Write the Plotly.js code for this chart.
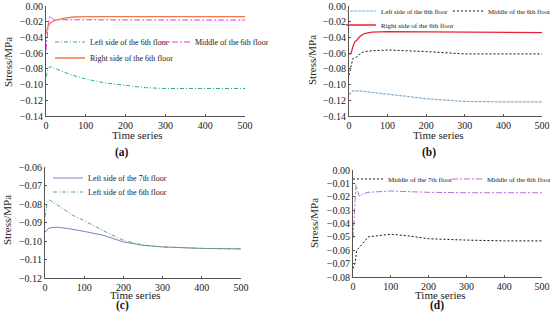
<!DOCTYPE html>
<html><head><meta charset="utf-8">
<script src="https://cdn.plot.ly/plotly-3.0.1.min.js"></script>
<style>html,body{margin:0;padding:0;background:#fff}#chart{width:550px;height:321px}</style>
</head><body><div id="chart"></div>
<script>
// ---- data ----
const tA_left6 = [0,5,10,20,40,60,100,150,200,250,300,400,500];
const vA_left6 = [-0.090,-0.080,-0.077,-0.079,-0.083,-0.087,-0.093,-0.098,-0.101,-0.104,-0.105,-0.105,-0.105];
const tA_mid6 = [0,3,6,10,15,20,30,50,100,200,300,400,500];
const vA_mid6 = [-0.056,-0.040,-0.022,-0.013,-0.016,-0.018,-0.0175,-0.0175,-0.018,-0.018,-0.018,-0.018,-0.018];
const tA_right6 = [0,3,6,10,15,25,40,50,70,100,200,300,400,500];
const vA_right6 = [-0.035,-0.030,-0.025,-0.022,-0.020,-0.018,-0.016,-0.015,-0.014,-0.0135,-0.0135,-0.0135,-0.0135,-0.0135];

const tB_left6 = [0,5,10,20,30,60,100,150,200,250,300,400,500];
const vB_left6 = [-0.113,-0.110,-0.108,-0.108,-0.108,-0.110,-0.112,-0.115,-0.118,-0.120,-0.1215,-0.122,-0.122];
const tB_mid6 = [0,5,10,15,20,30,40,60,100,150,200,300,400,500];
const vB_mid6 = [-0.088,-0.077,-0.067,-0.066,-0.065,-0.060,-0.058,-0.057,-0.056,-0.057,-0.058,-0.061,-0.061,-0.061];
const tB_right6 = [0,5,10,15,20,30,40,60,100,200,300,400,500];
const vB_right6 = [-0.061,-0.061,-0.052,-0.0456,-0.0435,-0.038,-0.035,-0.0333,-0.0325,-0.033,-0.0335,-0.0338,-0.0338];

const tC_left7 = [0,5,10,30,60,100,150,200,250,300,400,500];
const vC_left7 = [-0.0951,-0.094,-0.093,-0.0925,-0.0933,-0.0948,-0.097,-0.1005,-0.1023,-0.1032,-0.104,-0.1043];
const tC_left6 = [0,5,10,20,40,70,100,150,200,250,300,400,500];
const vC_left6 = [-0.087,-0.080,-0.0777,-0.079,-0.0816,-0.086,-0.089,-0.0946,-0.0996,-0.1023,-0.1032,-0.104,-0.1042];

const tD_mid7 = [0,5,10,20,30,40,60,100,150,200,300,400,500];
const vD_mid7 = [-0.0736,-0.070,-0.060,-0.057,-0.0536,-0.050,-0.0494,-0.048,-0.0494,-0.0514,-0.0524,-0.053,-0.053];
const tD_mid6 = [0,5,8,12,18,25,40,100,200,300,400,500];
const vD_mid6 = [-0.051,-0.0224,-0.011,-0.016,-0.020,-0.018,-0.0167,-0.0157,-0.0167,-0.017,-0.017,-0.017];

const namesA = ["Left side of the 6th floor","Middle of the 6th floor","Right side of the 6th floor"];
const namesC = ["Left side of the 7th floor","Left side of the 6th floor"];
const namesD = ["Middle of the 7th floor","Middle of the 6th floor"];
const xTicks = [0,100,200,300,400,500];
const panelLabels = ["(a)","(b)","(c)","(d)"];
const xTitle = "Time series";
const yTitle = "Stress/MPa";

// ---- helpers (pixel -> paper) ----
const W=550,H=321;
const px=x=>x/W, py=y=>1-y/H;
const FONT="Liberation Serif";

const traces=[
 {x:tA_left6,y:vA_left6,name:namesA[0],xaxis:'x',yaxis:'y',legend:'legend',line:{color:'#2fae86',width:1,dash:'4px,2px,1px,2px'}},
 {x:tA_mid6,y:vA_mid6,name:namesA[1],xaxis:'x',yaxis:'y',legend:'legend2',line:{color:'#e040d8',width:1,dash:'6px,2px,2px,2px'}},
 {x:tA_right6,y:vA_right6,name:namesA[2],xaxis:'x',yaxis:'y',legend:'legend3',line:{color:'#f27a4a',width:1.3}},
 {x:tB_left6,y:vB_left6,name:namesA[0],xaxis:'x2',yaxis:'y2',legend:'legend4',line:{color:'#7eaed6',width:1.2,dash:'3px,1px'}},
 {x:tB_mid6,y:vB_mid6,name:namesA[1],xaxis:'x2',yaxis:'y2',legend:'legend5',line:{color:'#111',width:1,dash:'2px,2px'}},
 {x:tB_right6,y:vB_right6,name:namesA[2],xaxis:'x2',yaxis:'y2',legend:'legend6',line:{color:'#ee2035',width:1.3}},
 {x:tC_left7,y:vC_left7,name:namesC[0],xaxis:'x3',yaxis:'y3',legend:'legend7',line:{color:'#7d80c0',width:1}},
 {x:tC_left6,y:vC_left6,name:namesC[1],xaxis:'x3',yaxis:'y3',legend:'legend8',line:{color:'#5fa86a',width:1,dash:'4px,2px,1px,2px'}},
 {x:tD_mid7,y:vD_mid7,name:namesD[0],xaxis:'x4',yaxis:'y4',legend:'legend9',line:{color:'#111',width:1,dash:'2px,2px'}},
 {x:tD_mid6,y:vD_mid6,name:namesD[1],xaxis:'x4',yaxis:'y4',legend:'legend10',line:{color:'#b76ee0',width:1,dash:'6px,2px,2px,2px'}}
].map(t=>Object.assign({type:'scatter',mode:'lines',showlegend:true},t));

const tickF={family:FONT,size:10,color:'#222'};
function xax(dom,anchor){return {domain:dom,anchor:anchor,range:[0,500],tickvals:xTicks,showgrid:false,zeroline:false,showline:true,linecolor:'#555',linewidth:1,ticks:'inside',ticklen:2,tickcolor:'#555',tickfont:tickF,ticklabeloverflow:'allow',automargin:false};}
function yax(dom,anchor,rng,dt,fmt){return {domain:dom,anchor:anchor,range:rng,dtick:dt,tick0:0,tickformat:fmt,showgrid:false,zeroline:false,showline:true,linecolor:'#555',linewidth:1,ticks:'inside',ticklen:2,tickcolor:'#555',tickfont:tickF,ticklabeloverflow:'allow',automargin:false};}
function leg(x,y,fs,anchor){return {x:px(x),y:py(y),xanchor:anchor||'left',yanchor:'middle',orientation:'h',bgcolor:'rgba(0,0,0,0)',font:{family:FONT,size:fs,color:'#222'},itemwidth:30,tracegroupgap:0};}

const ann=[];
[[122,152],[429,152],[122,305],[437,305]].forEach((p,i)=>ann.push({text:'<b>'+panelLabels[i]+'</b>',x:px(p[0]),y:py(p[1]),xref:'paper',yref:'paper',showarrow:false,xanchor:'center',yanchor:'middle',font:{family:FONT,size:11.5,color:'#111'}}));
[[137,135],[438,135],[135,295],[440,295]].forEach(p=>ann.push({text:xTitle,x:px(p[0]),y:py(p[1]),xref:'paper',yref:'paper',showarrow:false,xanchor:'center',yanchor:'middle',font:{family:FONT,size:11,color:'#222'}}));
[[8,62],[312,60],[7,220],[314,223]].forEach(p=>ann.push({text:yTitle,x:px(p[0]),y:py(p[1]),xref:'paper',yref:'paper',showarrow:false,xanchor:'center',yanchor:'middle',textangle:-90,font:{family:FONT,size:11,color:'#222'}}));

const layout={
 width:W,height:H,margin:{l:0,r:0,t:0,b:0,autoexpand:false},paper_bgcolor:'#fff',plot_bgcolor:'#fff',
 xaxis:xax([px(46),px(245)],'y'),
 yaxis:yax([py(116),py(6)],'x',[-0.14,0],0.02,'.2f'),
 xaxis2:xax([px(349),px(542)],'y2'),
 yaxis2:yax([py(116),py(6)],'x2',[-0.14,0],0.02,'.2f'),
 xaxis3:xax([px(45),px(241)],'y3'),
 yaxis3:yax([py(278),py(167)],'x3',[-0.12,-0.06],0.01,'.2f'),
 xaxis4:xax([px(353),px(542)],'y4'),
 yaxis4:yax([py(277),py(170)],'x4',[-0.08,0],0.01,'.2f'),
 legend:leg(50,42,8),
 legend2:leg(155,42,8),
 legend3:leg(50,58,8),
 legend4:leg(341,11,6.8),
 legend5:leg(557,11,6.8,'right'),
 legend6:leg(341,25,7),
 legend7:leg(48,178,8),
 legend8:leg(48,192,8),
 legend9:leg(348,179,7),
 legend10:leg(557,179,7,'right'),
 annotations:ann,
 showlegend:true
};
Plotly.newPlot('chart',traces,layout,{staticPlot:true,displayModeBar:false});
</script></body></html>
